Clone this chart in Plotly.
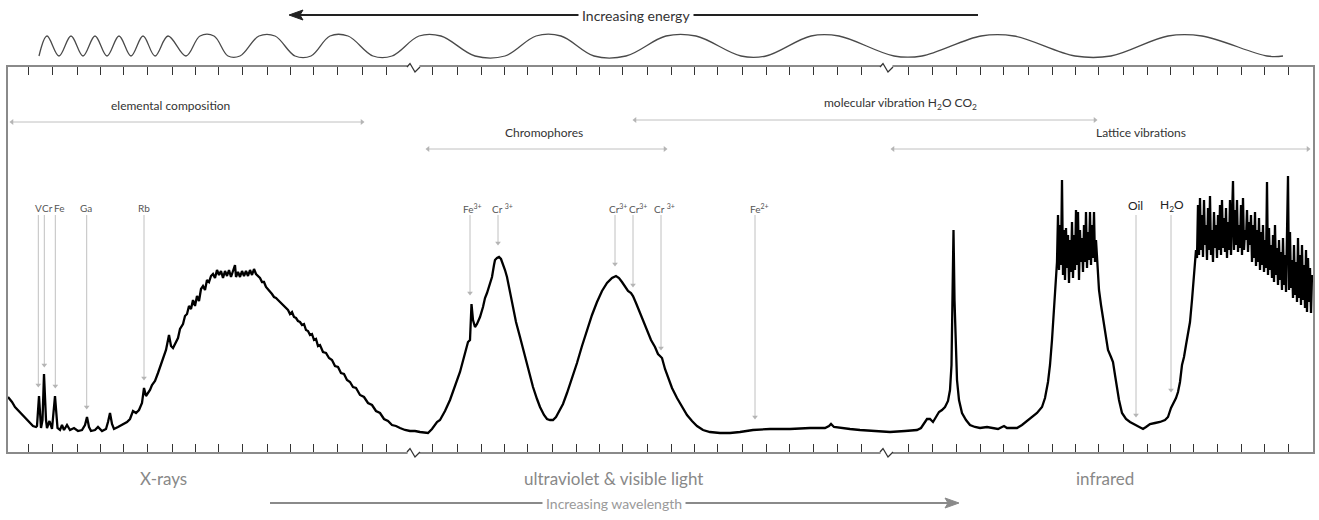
import plotly.graph_objects as go

W, H = 1319, 520

# ---------------- data ----------------
# spectrum: channel (x) and intensity
xray_x = [8, 12, 15, 19, 23, 28, 33, 36, 37, 39, 41, 42.5, 44, 46, 47, 49.5, 52, 55, 57.5, 60, 62, 64, 67, 70, 74, 78,
          82, 85, 87, 89, 91, 95, 98, 102, 106, 108, 110, 112, 114, 118, 122, 127, 130, 133, 136, 139, 142, 144, 146,
          148, 150, 152, 155, 158, 161, 163, 166, 169, 171, 173, 176, 178, 180, 183, 185, 187, 189, 191, 193, 195, 197,
          199, 201, 203, 205, 207, 209, 211, 213, 215, 217, 219, 221, 223, 225, 227, 229, 231, 233, 235, 236, 238, 240,
          242, 244, 246, 248, 250, 252, 254, 256, 258, 260, 262, 264, 266, 268, 270, 272, 274, 276, 278, 280, 282, 284,
          286, 288, 290, 292, 294, 296, 298, 300, 302, 304, 306, 308, 310, 312, 314, 316, 318, 320, 323, 326, 329, 332,
          335, 338, 341, 344, 347, 350, 353, 356, 360, 364, 368, 372, 376, 380, 384, 388, 392, 396, 400, 405, 410, 415,
          420, 425, 428, 432, 437]
xray_y = [55, 50, 45, 41, 37, 31, 26, 25, 26, 56, 24, 32, 78, 32, 24, 31, 23, 56, 24, 22, 27, 22, 27, 22, 24, 21,
          22, 27, 35, 25, 21, 22, 25, 21, 23, 30, 39, 28, 23, 25, 27, 30, 33, 41, 39, 42, 49, 64, 56,
          59, 62, 67, 71, 79, 88, 94, 102, 117, 106, 104, 111, 114, 123, 128, 136, 138, 146, 143, 152, 146, 156,
          151, 163, 166, 162, 172, 170, 176, 178, 174, 182, 177, 181, 174, 181, 176, 182, 175, 181, 187, 175, 180, 175,
          181, 176, 181, 176, 182, 177, 183, 178, 176, 174, 170, 170, 165, 163, 160, 158, 155, 154, 152, 150, 147, 146,
          143, 142, 138, 140, 135, 134, 131, 130, 127, 128, 122, 121, 117, 118, 112, 113, 106, 107, 100, 99, 94, 92,
          86, 85, 79, 78, 72, 70, 65, 64, 57, 55, 49, 47, 41, 39, 33, 31, 27, 26, 24, 22, 21, 21,
          20, 19, 19, 23, 30]

uvvis_x = [440, 445, 450, 455, 460, 464, 468, 470, 471.5, 473, 475, 477, 480, 483, 485, 487, 490, 492, 494, 495, 497,
           499, 501, 503, 505, 507, 510, 513, 516, 520, 524, 527, 530, 533, 537, 540, 544, 547, 550, 553, 556, 559,
           563, 567, 572, 577, 582, 587, 592, 597, 602, 607, 612, 616, 619, 622, 625, 628, 631, 633, 636, 640, 644,
           647, 651, 655, 658, 660, 662, 665, 668, 672, 677, 682, 687, 692, 697, 703, 710, 720, 730, 740, 753, 770,
           790, 810, 825, 829, 831, 834, 840, 850]
uvvis_y = [32, 41, 52, 65, 80, 95, 110, 112, 148, 132, 125, 128, 135, 145, 154, 159, 169, 175, 187, 192, 194,
           195, 193, 188, 182, 175, 160, 145, 130, 115, 100, 89, 76, 65, 53, 45, 37, 33, 32, 32, 35, 40,
           48, 59, 73, 89, 106, 122, 137, 150, 161, 169, 174, 176, 174, 170, 165, 161, 159, 156, 149, 139, 129,
           120, 112, 105, 98, 96, 94, 83, 74, 64, 54, 45, 37, 31, 26, 22, 20, 19, 19, 20, 22, 23,
           23, 24, 24, 26, 28, 25, 24, 23]

ir_x = [860, 875, 890, 905, 917, 921, 924, 927, 930, 933, 936, 939, 942, 945, 948, 950, 951.5, 952.5, 953.5, 954.5,
        955.5, 957, 959, 962, 966, 970, 975, 980, 987, 993, 998, 1002, 1004, 1007, 1012, 1017, 1022, 1027, 1032,
        1037, 1042, 1045, 1048, 1050, 1052, 1054, 1056,
        1057, 1058, 1059, 1060, 1061, 1062, 1063, 1064, 1065, 1066, 1067, 1068, 1069, 1070, 1071, 1072, 1073, 1074,
        1075, 1076, 1077, 1078, 1079, 1080, 1081, 1082, 1083, 1084, 1085, 1086, 1087, 1088, 1089, 1090, 1091, 1092,
        1093, 1094, 1095, 1096, 1097,
        1099, 1101, 1103, 1106, 1108, 1111, 1113, 1115, 1117, 1119, 1122, 1126, 1130, 1135, 1140, 1143, 1146, 1150,
        1155, 1160, 1165, 1168, 1171, 1174, 1176, 1178, 1180, 1182, 1184, 1186, 1188, 1190, 1192, 1194, 1196,
        1197, 1198, 1199, 1200, 1201, 1202, 1203, 1204, 1205, 1206, 1207, 1208, 1209, 1210, 1211, 1212, 1213, 1214,
        1215, 1216, 1217, 1218, 1219, 1220, 1221, 1222, 1223, 1224, 1225, 1226, 1227, 1228, 1229, 1230, 1231, 1232,
        1233, 1234, 1235, 1236, 1237, 1238, 1239, 1240, 1241, 1242, 1243, 1244, 1245, 1246, 1247, 1248, 1249, 1250,
        1251, 1252, 1253, 1254, 1255, 1256, 1257, 1258, 1259, 1260, 1261, 1262, 1263, 1264, 1265, 1266, 1267, 1268,
        1269, 1270, 1271, 1272, 1273, 1274, 1275, 1276, 1277, 1278, 1279, 1280, 1281, 1282, 1283, 1284, 1285, 1286,
        1287, 1288, 1289, 1290, 1291, 1292, 1293, 1294, 1295, 1296, 1297, 1298, 1299, 1300, 1301, 1302, 1303, 1304,
        1305, 1306, 1307, 1308, 1309, 1310, 1311, 1312]
ir_y = [22, 21, 20, 21, 22, 24, 28, 33, 33, 30, 35, 40, 42, 45, 51, 62, 87, 152, 222, 152,
        107, 72, 52, 39, 32, 27, 25, 24, 25, 24, 23, 25, 26, 24, 24, 24, 27, 31, 35,
        39, 45, 54, 70, 87, 112, 142, 177,
        190, 237, 182, 227, 187, 272, 177, 222, 172, 224, 184, 217, 169, 212, 180, 230, 174, 217,
        182, 242, 187, 240, 172, 222, 190, 214, 180, 227, 190, 240, 184, 220, 192, 240, 187, 227,
        194, 240, 190, 212, 190,
        162, 147, 135, 114, 102, 95, 90, 77, 65, 52, 39, 33, 30, 27, 24, 23, 25, 28,
        29, 30, 32, 35, 44, 50, 54, 60, 70, 87, 95, 107, 117, 130, 152, 182, 202,
        194, 247, 197, 254, 202, 237, 195, 252, 207, 227, 192, 244, 202, 256, 197, 222, 190, 240,
        204, 227, 194, 237, 202, 247, 197, 252, 204, 234, 200, 244, 194, 230, 202, 252, 197, 237,
        271, 202, 242, 207, 252, 200, 227, 204, 247, 197, 254, 202, 222, 212, 242, 200, 230, 207,
        237, 190, 227, 194, 240, 186, 222, 190, 234, 182, 220, 187, 227, 180, 212, 184, 270, 177,
        224, 182, 207, 174, 217, 170, 227, 177, 204, 167, 212, 172, 200, 162, 214, 167, 197, 160,
        212, 276, 162, 220, 164, 192, 154, 207, 157, 190, 150, 214, 154, 197, 147, 207, 152, 187,
        144, 202, 140, 194, 150, 184, 139, 177]

spec_x = xray_x + uvvis_x + ir_x
spec_y = xray_y + uvvis_y + ir_y

# decorative wave (crest = 1, trough = 0)
wave_x = [39, 47, 59, 71, 83, 95, 107, 119, 131, 143, 155, 168, 186,
          200, 214, 228, 240, 259, 275, 295, 311, 330, 348, 373, 392, 419, 441, 475, 505,
          536, 561, 594, 626, 666, 696, 741, 766, 811, 839, 894, 922, 981, 1014, 1075, 1111,
          1168, 1202, 1267, 1283]
wave_y = [0, 1, 0, 1, 0, 1, 0, 1, 0, 1, 0, 1, 0,
          1, 1, 0, 0, 1, 1, 0, 0, 1, 1, 0, 0, 1, 1, 0, 0,
          1, 1, 0, 0, 1, 1, 0, 0, 1, 1, 0, 0, 1, 1, 0, 0,
          1, 1, 0, 0]

tick_pos = [28, 52, 77, 100, 123, 147, 172, 195, 218, 242, 267, 290, 313, 337, 362, 386,
            432, 457, 481, 504, 527, 552, 576, 599, 622, 647, 671, 694, 717, 742, 766, 789, 813, 837, 861,
            908, 932, 956, 980, 1003, 1028, 1052, 1075, 1098, 1123, 1147, 1170, 1193, 1217, 1241, 1264, 1288]
break_pos = [413, 886]

# peak labels: text, label x, arrow x, arrow tip intensity, label style
peak_text = ["V", "Cr", "Fe", "Ga", "Rb",
             "Fe<sup>3+</sup>", "Cr <sup>3+</sup>", "Cr<sup>3+</sup>", "Cr<sup>3+</sup>", "Cr <sup>3+</sup>",
             "Fe<sup>2+</sup>", "Oil", "H<sub>2</sub>O"]
peak_label_x = [38, 47.5, 59.5, 86, 143.5, 472, 502, 618, 638, 664, 759, 1135, 1172]
peak_arrow_x = [38.3, 44.3, 55.3, 86.7, 144, 470, 498, 615, 633, 661, 755, 1136, 1171]
peak_tip = [65, 85, 64, 43, 72, 157, 207, 186, 165, 102, 33, 35, 60]
peak_big = [False] * 11 + [True, True]
ARROW_TOP = 237

# range bars: text, start, end, level
range_text = ["elemental composition", "Chromophores",
              "molecular vibration H<sub>2</sub>O CO<sub>2</sub>", "Lattice vibrations"]
range_start = [12, 428, 635, 893]
range_end = [362, 665, 1095, 1308]
range_level = [330, 303, 332, 303]
range_text_x = [170, 544, 900, 1141]

region_text = ["X-rays", "ultraviolet &amp; visible light", "infrared"]
region_x = [163, 613, 1105]

# ---------------- figure ----------------
BOX_L, BOX_R, BOX_T, BOX_B = 7.5, 1313, 67, 452
FONT = "Lato, 'Noto Sans', sans-serif"


def py2paper(py):
    return 1 - py / H


fig = go.Figure()

fig.add_trace(go.Scatter(x=spec_x, y=spec_y, mode="lines",
                         line=dict(color="#000000", width=2.3),
                         hoverinfo="skip", showlegend=False))

fig.add_trace(go.Scatter(x=wave_x, y=wave_y, mode="lines", yaxis="y2",
                         line=dict(color="#4a4a4a", width=1.3, shape="spline", smoothing=1.0),
                         hoverinfo="skip", showlegend=False))

# peak pointer lines with arrowheads at the tips
lx, ly = [], []
for axx, tip in zip(peak_arrow_x, peak_tip):
    lx += [axx, axx, None]
    ly += [ARROW_TOP, tip + 2, None]
fig.add_trace(go.Scatter(x=lx, y=ly, mode="lines", line=dict(color="#c0c0c0", width=1),
                         hoverinfo="skip", showlegend=False))
fig.add_trace(go.Scatter(x=peak_arrow_x, y=[t + 2 for t in peak_tip], mode="markers",
                         marker=dict(symbol="triangle-down", size=5, color="#b5b5b5"),
                         hoverinfo="skip", showlegend=False))

# range bars with arrowheads at both ends
rx_, ry_ = [], []
for s, e, lv in zip(range_start, range_end, range_level):
    rx_ += [s, e, None]
    ry_ += [lv, lv, None]
fig.add_trace(go.Scatter(x=rx_, y=ry_, mode="lines", line=dict(color="#c0c0c0", width=1),
                         hoverinfo="skip", showlegend=False))
fig.add_trace(go.Scatter(x=range_start, y=range_level, mode="markers",
                         marker=dict(symbol="triangle-left", size=5, color="#b5b5b5"),
                         hoverinfo="skip", showlegend=False))
fig.add_trace(go.Scatter(x=range_end, y=range_level, mode="markers",
                         marker=dict(symbol="triangle-right", size=5, color="#b5b5b5"),
                         hoverinfo="skip", showlegend=False))

annotations = []
for t, lxx, big in zip(peak_text, peak_label_x, peak_big):
    annotations.append(dict(x=lxx, y=(452 - 205) if big else (452 - 208), xref="x", yref="y",
                            text=t, showarrow=False, xanchor="center", yanchor="middle",
                            font=dict(family=FONT, size=12 if big else 10, color="#222" if big else "#555")))

for t, lv, tx in zip(range_text, range_level, range_text_x):
    annotations.append(dict(x=tx, y=lv + 17, xref="x", yref="y", text=t, showarrow=False,
                            xanchor="center", yanchor="middle",
                            font=dict(family=FONT, size=12, color="#333")))

for t, rxx in zip(region_text, region_x):
    annotations.append(dict(x=rxx, y=py2paper(478), xref="x", yref="paper", text=t, showarrow=False,
                            xanchor="center", yanchor="middle",
                            font=dict(family=FONT, size=17, color="#888")))

annotations.append(dict(x=636, y=py2paper(15), xref="x", yref="paper", text="Increasing energy",
                        showarrow=False, bgcolor="white", borderpad=3, xanchor="center", yanchor="middle",
                        font=dict(family=FONT, size=14, color="#333")))
annotations.append(dict(x=614, y=py2paper(503), xref="x", yref="paper", text="Increasing wavelength",
                        showarrow=False, bgcolor="white", borderpad=3, xanchor="center", yanchor="middle",
                        font=dict(family=FONT, size=14, color="#9a9a9a")))

shapes = []


def path_of(pts):
    return "M " + " L ".join(f"{x},{py2paper(y)}" for x, y in pts) + " Z"


# energy arrow (top, pointing left)
shapes.append(dict(type="line", xref="x", yref="paper", x0=298, x1=978,
                   y0=py2paper(15), y1=py2paper(15), line=dict(color="#222", width=2), layer="below"))
shapes.append(dict(type="path", xref="x", yref="paper",
                   path=path_of([(289, 15), (303, 10), (300, 15), (303, 20)]),
                   fillcolor="#222", line=dict(color="#222", width=1)))
# wavelength arrow (bottom, pointing right)
shapes.append(dict(type="line", xref="x", yref="paper", x0=270, x1=950,
                   y0=py2paper(503), y1=py2paper(503), line=dict(color="#8a8a8a", width=2), layer="below"))
shapes.append(dict(type="path", xref="x", yref="paper",
                   path=path_of([(959, 503), (945, 498), (948, 503), (945, 508)]),
                   fillcolor="#8a8a8a", line=dict(color="#8a8a8a", width=1)))

# axis breaks (white gap + zigzag) on top and bottom border
for bx in break_pos:
    for base in (BOX_T, BOX_B):
        shapes.append(dict(type="rect", xref="x", yref="paper", x0=bx - 5.5, x1=bx + 6.5,
                           y0=py2paper(base + 2.5), y1=py2paper(base - 2.5),
                           fillcolor="white", line=dict(width=0), layer="above"))
        pts = [(bx - 6, base), (bx - 3, base - 3.5), (bx + 2, base + 5), (bx + 7, base)]
        path = "M " + " L ".join(f"{x},{py2paper(y)}" for x, y in pts)
        shapes.append(dict(type="path", xref="x", yref="paper", path=path,
                           line=dict(color="#333", width=1.3), layer="above"))

fig.update_layout(
    width=W, height=H,
    margin=dict(l=0, r=0, t=0, b=0),
    paper_bgcolor="white", plot_bgcolor="white",
    showlegend=False,
    xaxis=dict(domain=[BOX_L / W, BOX_R / W], range=[BOX_L, BOX_R],
               showgrid=False, zeroline=False, showline=True, linecolor="#8a8a8a", linewidth=1.6,
               mirror="ticks", ticks="inside", ticklen=8, tickwidth=1, tickcolor="#333",
               tickvals=tick_pos, showticklabels=False, fixedrange=True),
    yaxis=dict(domain=[1 - BOX_B / H, 1 - BOX_T / H], range=[0, BOX_B - BOX_T],
               showgrid=False, zeroline=False, showline=True, linecolor="#8a8a8a", linewidth=1.6,
               mirror=True, ticks="", showticklabels=False, fixedrange=True),
    yaxis2=dict(domain=[1 - 62 / H, 1 - 30 / H], range=[-0.3, 1.3], anchor="x",
                visible=False, fixedrange=True),
    annotations=annotations,
    shapes=shapes,
)

fig.write_html("out.html", config={"displayModeBar": False},
               post_script="document.body.style.margin='0px';")
